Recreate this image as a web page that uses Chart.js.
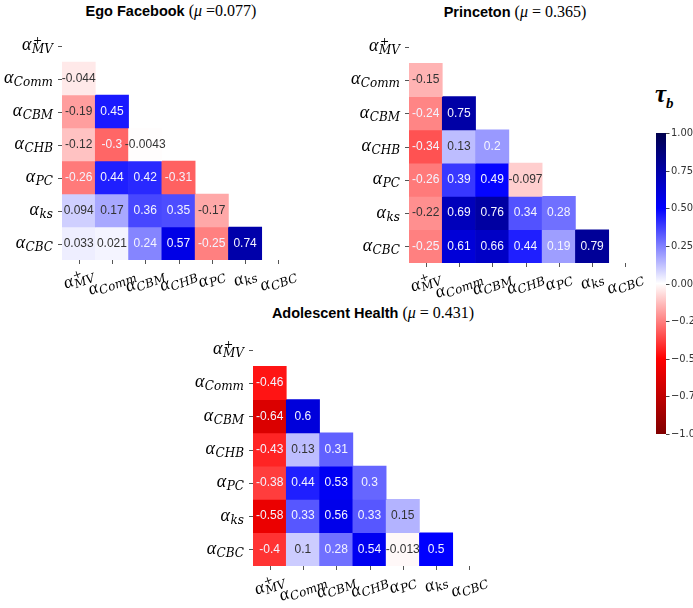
<!DOCTYPE html>
<html>
<head>
<meta charset="utf-8">
<script src="https://cdn.jsdelivr.net/npm/chart.js@4.4.1/dist/chart.umd.min.js"></script>
<style>
  body { margin: 0; background: #fff; }
  #wrap { position: relative; width: 693px; height: 608px; overflow: hidden; }
  canvas { position: absolute; }
  .title { position: absolute; white-space: nowrap; transform: translateX(-50%); line-height: 20px; color: #000; }
  .title b { font: bold 14.5px "Liberation Sans", Arial, sans-serif; }
  .title span { font: 16px "Liberation Serif", serif; }
  #tau { position: absolute; left: 655px; top: 80px; font: bold italic 25px "Liberation Serif", serif; }
  #tau sub { font-size: 15px; }
</style>
</head>
<body>
<div id="wrap">
  <div class="title" style="left:171px;top:1px"><b>Ego Facebook</b> <span>(<i>μ</i> =0.077)</span></div>
  <div class="title" style="left:515px;top:2px"><b>Princeton</b> <span>(<i>μ</i> = 0.365)</span></div>
  <div class="title" style="left:373px;top:303px"><b>Adolescent Health</b> <span>(<i>μ</i> = 0.431)</span></div>
  <div id="tau">τ<sub>b</sub></div>
  <canvas id="ego" width="340" height="300" style="left:0;top:0"></canvas>
  <canvas id="princeton" width="320" height="300" style="left:346px;top:0"></canvas>
  <canvas id="adolescent" width="320" height="308" style="left:190px;top:300px"></canvas>
  <canvas id="cbar" width="73" height="340" style="left:620px;top:110px"></canvas>
</div>
<script>
'use strict';

// variable names: alpha with subscript / superscript
let labelSubs = ['MV', 'Comm', 'CBM', 'CHB', 'PC', 'ks', 'CBC'];
let labelSups = ['+', '', '', '', '', '', ''];

// lower triangle, row i holds the values for columns 0..i-1 (rows 1..6)
let egoValues = [
  [-0.044],
  [-0.19, 0.45],
  [-0.12, -0.3, -0.0043],
  [-0.26, 0.44, 0.42, -0.31],
  [0.094, 0.17, 0.36, 0.35, -0.17],
  [0.033, 0.021, 0.24, 0.57, -0.25, 0.74]
];
let princetonValues = [
  [-0.15],
  [-0.24, 0.75],
  [-0.34, 0.13, 0.2],
  [-0.26, 0.39, 0.49, -0.097],
  [-0.22, 0.69, 0.76, 0.34, 0.28],
  [-0.25, 0.61, 0.66, 0.44, 0.19, 0.79]
];
let adolescentValues = [
  [-0.46],
  [-0.64, 0.6],
  [-0.43, 0.13, 0.31],
  [-0.38, 0.44, 0.53, 0.3],
  [-0.58, 0.33, 0.56, 0.33, 0.15],
  [-0.4, 0.1, 0.28, 0.54, -0.013, 0.5]
];

let cbarTicks = [1, 0.75, 0.5, 0.25, 0, -0.25, -0.5, -0.75, -1];

// seismic colormap, reversed (blue for positive)
function cmapRgb(v) {
  let t;
  if (v >= 0.5) { t = (v - 0.5) / 0.5; return [0, 0, 255 + (77 - 255) * t]; }
  if (v >= 0) { t = v / 0.5; return [255 * (1 - t), 255 * (1 - t), 255]; }
  if (v >= -0.5) { t = -v / 0.5; return [255, 255 * (1 - t), 255 * (1 - t)]; }
  t = (-v - 0.5) / 0.5;
  return [255 + (128 - 255) * t, 0, 0];
}
function cmap(v) {
  let c = cmapRgb(v);
  return 'rgb(' + Math.round(c[0]) + ',' + Math.round(c[1]) + ',' + Math.round(c[2]) + ')';
}
function textColor(v) {
  let c = cmapRgb(v).map(function (x) {
    x = x / 255;
    return x <= 0.03928 ? x / 12.92 : Math.pow((x + 0.055) / 1.055, 2.4);
  });
  let lum = 0.2126 * c[0] + 0.7152 * c[1] + 0.0722 * c[2];
  return lum > 0.408 ? '#333333' : '#f4f4ff';
}

let ALPHA_FONT = 'italic 18px "Liberation Serif", serif';
let SUB_FONT = 'italic 12px "DejaVu Serif", serif';
let SUP_FONT = '11px "DejaVu Serif", serif';

function labelWidth(ctx, i) {
  ctx.font = ALPHA_FONT;
  let wa = ctx.measureText('α').width;
  ctx.font = SUB_FONT;
  let ws = ctx.measureText(labelSubs[i]).width;
  ctx.font = SUP_FONT;
  let wp = ctx.measureText(labelSups[i]).width;
  return wa + 0.5 + Math.max(ws, wp);
}

// draws alpha label with left edge x, vertical centre cy
function drawLabel(ctx, i, x, cy) {
  ctx.fillStyle = '#000';
  ctx.textAlign = 'left';
  ctx.textBaseline = 'alphabetic';
  ctx.font = ALPHA_FONT;
  let wa = ctx.measureText('α').width;
  ctx.fillText('α', x, cy + 4.5);
  ctx.font = SUB_FONT;
  ctx.fillText(labelSubs[i], x + wa + 0.5, cy + 7.5);
  if (labelSups[i]) {
    ctx.font = SUP_FONT;
    ctx.fillText(labelSups[i], x + wa + 1.5, cy - 1.5);
  }
}

let heatmapPlugin = {
  id: 'heatmapText',
  afterDatasetsDraw(chart) {
    let ctx = chart.ctx;
    let xs = chart.scales.x;
    let ys = chart.scales.y;
    let area = chart.chartArea;
    let values = chart.options.plugins.heatmapText.values;
    ctx.save();

    // cell annotations
    ctx.font = '12px "Liberation Sans", sans-serif';
    ctx.textAlign = 'center';
    ctx.textBaseline = 'middle';
    for (let r = 0; r < values.length; r++) {
      for (let c = 0; c < values[r].length; c++) {
        let v = values[r][c];
        ctx.fillStyle = textColor(v);
        ctx.fillText(String(v), xs.getPixelForValue(c), ys.getPixelForValue(r + 1.5));
      }
    }

    // tick marks
    ctx.strokeStyle = '#555';
    ctx.lineWidth = 1;
    for (let i = 0; i < labelSubs.length; i++) {
      let py = Math.round(ys.getPixelForValue(i + 0.5)) + 0.5;
      ctx.beginPath();
      ctx.moveTo(area.left - 4, py);
      ctx.lineTo(area.left, py);
      ctx.stroke();
      let px = Math.round(xs.getPixelForValue(i)) + 0.5;
      ctx.beginPath();
      ctx.moveTo(px, area.bottom);
      ctx.lineTo(px, area.bottom + 4);
      ctx.stroke();
    }

    // y labels
    for (let i = 0; i < labelSubs.length; i++) {
      let w = labelWidth(ctx, i);
      drawLabel(ctx, i, area.left - 9 - w, ys.getPixelForValue(i + 0.5));
    }

    // x labels, rotated 20 degrees
    let ang = 20 * Math.PI / 180;
    for (let i = 0; i < labelSubs.length; i++) {
      let w = labelWidth(ctx, i);
      let boxH = w * Math.sin(ang) + 17 * Math.cos(ang);
      ctx.save();
      ctx.translate(xs.getPixelForValue(i), area.bottom + 6 + boxH / 2);
      ctx.rotate(-ang);
      drawLabel(ctx, i, -w / 2, 0);
      ctx.restore();
    }
    ctx.restore();
  }
};

function renderHeatmap(canvasId, values, pad) {
  let datasets = [];
  for (let r = 0; r < values.length; r++) {
    let row = r + 1;
    datasets.push({
      data: labelSubs.map(function (_, c) { return c < row ? [row, row + 1] : null; }),
      backgroundColor: labelSubs.map(function (_, c) { return c < row ? cmap(values[r][c]) : 'rgba(0,0,0,0)'; })
    });
  }
  new Chart(document.getElementById(canvasId), {
    type: 'bar',
    data: { labels: labelSubs, datasets: datasets },
    options: {
      responsive: false,
      animation: false,
      events: [],
      layout: { padding: pad },
      datasets: {
        bar: { grouped: false, barPercentage: 1, categoryPercentage: 1, borderWidth: 0, borderSkipped: false }
      },
      scales: {
        x: { display: false },
        y: { display: false, min: 0, max: 7, reverse: true }
      },
      plugins: {
        legend: { display: false },
        tooltip: { enabled: false },
        heatmapText: { values: values }
      }
    },
    plugins: [heatmapPlugin]
  });
}

renderHeatmap('ego', egoValues, { left: 62, top: 29, right: 45, bottom: 40 });
renderHeatmap('princeton', princetonValues, { left: 63, top: 30, right: 24, bottom: 37 });
renderHeatmap('adolescent', adolescentValues, { left: 63, top: 33, right: 24, bottom: 42 });

// colorbar
let cbarPlugin = {
  id: 'cbarTicks',
  afterDatasetsDraw(chart) {
    let ctx = chart.ctx;
    let ys = chart.scales.y;
    let area = chart.chartArea;
    ctx.save();
    ctx.strokeStyle = '#444';
    ctx.fillStyle = '#333';
    ctx.font = '11px "Liberation Sans Narrow", "DejaVu Sans Condensed", "Liberation Sans", sans-serif';
    ctx.textAlign = 'left';
    ctx.textBaseline = 'middle';
    cbarTicks.forEach(function (t) {
      let py = Math.round(ys.getPixelForValue(t)) + 0.5;
      ctx.beginPath();
      ctx.moveTo(area.right, py);
      ctx.lineTo(area.right + 3.5, py);
      ctx.stroke();
      ctx.fillText(t.toFixed(2).replace('-', '\u2212'), area.right + 5, py);
    });
    ctx.restore();
  }
};

new Chart(document.getElementById('cbar'), {
  type: 'bar',
  data: {
    labels: ['tau'],
    datasets: [{
      data: [[-1, 1]],
      backgroundColor: function (c) {
        let area = c.chart.chartArea;
        if (!area) return '#fff';
        let g = c.chart.ctx.createLinearGradient(0, area.top, 0, area.bottom);
        for (let k = 0; k <= 16; k++) {
          g.addColorStop(k / 16, cmap(1 - k / 8));
        }
        return g;
      },
      borderWidth: 0,
      barPercentage: 1,
      categoryPercentage: 1
    }]
  },
  options: {
    responsive: false,
    animation: false,
    events: [],
    layout: { padding: { left: 36, right: 27, top: 23, bottom: 16 } },
    scales: {
      x: { display: false },
      y: { display: false, min: -1, max: 1 }
    },
    plugins: { legend: { display: false }, tooltip: { enabled: false } }
  },
  plugins: [cbarPlugin]
});
</script>
</body>
</html>
